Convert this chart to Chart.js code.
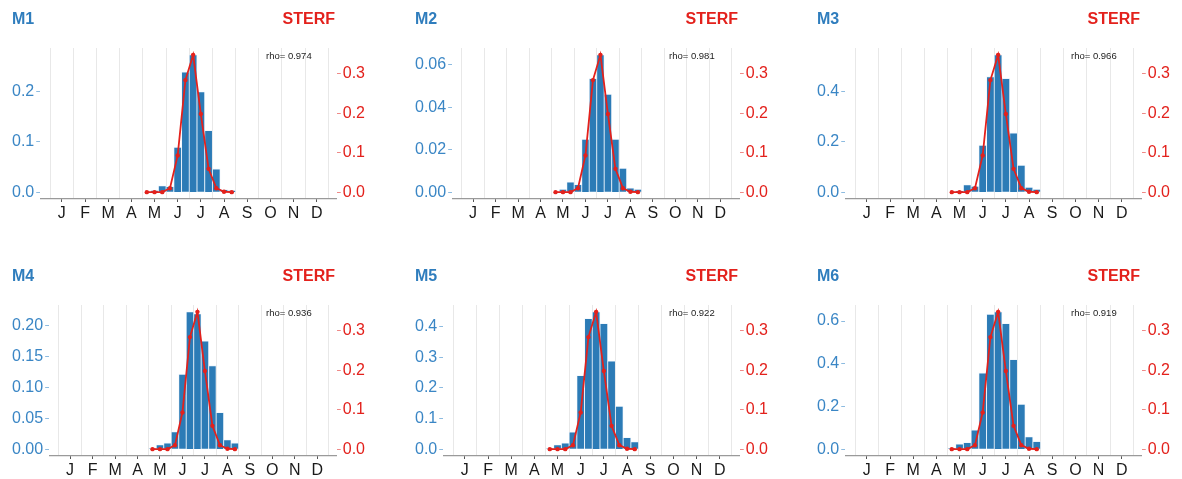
<!DOCTYPE html>
<html>
<head>
<meta charset="utf-8">
<script src="https://cdn.jsdelivr.net/npm/chart.js@4.4.1/dist/chart.umd.min.js"></script>
<style>
  body { margin: 0; background: #fff; }
  #wrap { position: relative; width: 1182px; height: 479px; overflow: hidden; font-family: 'Liberation Sans', Arial, sans-serif; }
  .panel { position: absolute; width: 380px; height: 230px; }
  .panel canvas { position: absolute; left: 0; top: 0; }
  .ttl { position: absolute; top: 10.6px; font-size: 16px; font-weight: bold; line-height: 16px; white-space: nowrap; }
  .mod { left: 12px; color: #2f7dbd; }
  .obs { right: 45px; color: #e3211c; }
  .rho { position: absolute; left: 266px; top: 51px; font-size: 9.5px; line-height: 9.5px; color: #222; white-space: nowrap; }
</style>
</head>
<body>
<div id="wrap"></div>
<script>
// month tick labels, one per month (ticks sit mid-month)
const months = ['J', 'F', 'M', 'A', 'M', 'J', 'J', 'A', 'S', 'O', 'N', 'D'];
// dekads (10-day bins), 36 per year; the data below starts at May, 1st dekad
const firstDekad = 12;

// observed STERF curve (right axis), May d1 .. Aug d3
const sterf = [0.000, 0.000, 0.000, 0.010, 0.093, 0.284, 0.348, 0.198, 0.059, 0.010, 0.001, 0.000];

// model histograms (left axis), May d1 .. Aug d3
const m1 = [0.000, 0.003, 0.0126, 0.011, 0.089, 0.238, 0.272, 0.199, 0.122, 0.046, 0.005, 0.003];
const m2 = [0.000, 0.0013, 0.0047, 0.0036, 0.0249, 0.0535, 0.0646, 0.046, 0.0249, 0.0112, 0.0019, 0.0013];
const m3 = [0.000, 0.005, 0.029, 0.023, 0.187, 0.460, 0.547, 0.453, 0.236, 0.107, 0.019, 0.011];
const m4 = [0.001, 0.007, 0.010, 0.028, 0.121, 0.222, 0.219, 0.175, 0.135, 0.059, 0.015, 0.010];
const m5 = [0.002, 0.014, 0.020, 0.056, 0.241, 0.427, 0.449, 0.411, 0.288, 0.140, 0.038, 0.024];
const m6 = [0.003, 0.024, 0.031, 0.089, 0.357, 0.632, 0.643, 0.588, 0.420, 0.210, 0.058, 0.036];

const names = ['M1', 'M2', 'M3', 'M4', 'M5', 'M6'];
const rhos = ['0.974', '0.981', '0.966', '0.936', '0.922', '0.919'];

const leftTicks = [
  [0, 0.1, 0.2],
  [0, 0.02, 0.04, 0.06],
  [0, 0.2, 0.4],
  [0, 0.05, 0.10, 0.15, 0.20],
  [0, 0.1, 0.2, 0.3, 0.4],
  [0, 0.2, 0.4, 0.6]
];
const leftDigits = [1, 2, 1, 2, 1, 1];
const rightTicks = [0, 0.1, 0.2, 0.3];

const models = [m1, m2, m3, m4, m5, m6];

const BLUE = '#2c7bb6';
const BLUE_TXT = '#3a86c5';
const RED = '#e3211c';

Chart.defaults.font.family = "'Liberation Sans', Arial, sans-serif";

const colX = [0, 403, 805];
const rowY = [0, 257];

function toPoints(vals) {
  return vals.map((v, i) => ({ x: firstDekad + i + 0.5, y: v }));
}

function expand(vals) {
  const mx = Math.max(...vals);
  return { min: -0.05 * mx, max: 1.05 * mx };
}

const wrap = document.getElementById('wrap');

models.forEach((bars, i) => {
  const panel = document.createElement('div');
  panel.className = 'panel';
  panel.style.left = colX[i % 3] + 'px';
  panel.style.top = rowY[Math.floor(i / 3)] + 'px';
  panel.innerHTML =
    '<canvas width="380" height="230"></canvas>' +
    '<div class="ttl mod">' + names[i] + '</div>' +
    '<div class="ttl obs">STERF</div>' +
    '<div class="rho">rho= ' + rhos[i] + '</div>';
  wrap.appendChild(panel);

  const lr = expand(bars);
  const rr = expand(sterf);

  new Chart(panel.querySelector('canvas'), {
    type: 'bar',
    data: {
      datasets: [
        {
          type: 'line',
          data: toPoints(sterf),
          yAxisID: 'y2',
          borderColor: RED,
          borderWidth: 1.8,
          pointRadius: 2.2,
          pointBackgroundColor: RED,
          pointBorderWidth: 0,
          tension: 0,
          order: 0
        },
        {
          type: 'bar',
          data: toPoints(bars),
          yAxisID: 'y',
          backgroundColor: BLUE,
          borderColor: 'rgba(225,238,250,0.6)',
          borderWidth: 0.8,
          barPercentage: 1,
          categoryPercentage: 1,
          order: 1
        }
      ]
    },
    options: {
      responsive: false,
      animation: false,
      devicePixelRatio: 1,
      layout: { padding: { left: 10, right: 13, top: 48, bottom: 0 } },
      plugins: { legend: { display: false }, tooltip: { enabled: false } },
      scales: {
        x: {
          type: 'linear',
          min: -1.3,
          max: 37.1,
          offset: false,
          afterBuildTicks: s => {
            const t = [];
            for (let v = 0; v <= 36; v += 1.5) t.push({ value: v });
            s.ticks = t;
          },
          afterFit: s => { s.height = 31; },
          grid: {
            offset: false,
            color: c => (c.tick && c.tick.value % 3 === 0) ? '#e8e8e8' : 'rgba(0,0,0,0)',
            tickColor: c => (c.tick && c.tick.value % 3 === 1.5) ? '#555' : 'rgba(0,0,0,0)',
            tickLength: 3
          },
          border: { color: '#9a9a9a', width: 1.2 },
          ticks: {
            autoSkip: false,
            maxRotation: 0,
            padding: 2,
            color: '#1a1a1a',
            font: { size: 16 },
            callback: v => {
              const k = (v - 1.5) / 3;
              return Number.isInteger(k) ? months[k] : '';
            }
          }
        },
        y: {
          position: 'left',
          min: lr.min,
          max: lr.max,
          afterBuildTicks: s => { s.ticks = leftTicks[i].map(v => ({ value: v })); },
          grid: { drawOnChartArea: false, drawTicks: true, tickLength: 4, tickColor: '#8dbbe0' },
          border: { display: false },
          ticks: {
            padding: 2,
            color: BLUE_TXT,
            font: { size: 16 },
            callback: v => v.toFixed(leftDigits[i])
          }
        },
        y2: {
          position: 'right',
          min: rr.min,
          max: rr.max,
          afterBuildTicks: s => { s.ticks = rightTicks.map(v => ({ value: v })); },
          grid: { drawOnChartArea: false, drawTicks: true, tickLength: 4, tickColor: '#ef8a88' },
          border: { display: false },
          ticks: {
            padding: 2,
            color: RED,
            font: { size: 16 },
            callback: v => v.toFixed(1)
          }
        }
      }
    }
  });
});
</script>
</body>
</html>
